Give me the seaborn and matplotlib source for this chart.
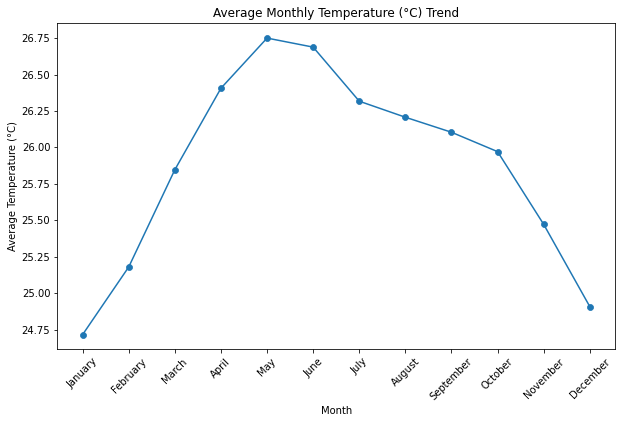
import numpy as np
import pandas as pd
import matplotlib
matplotlib.use("Agg")
import matplotlib.pyplot as plt
import seaborn as sns

months = ["January", "February", "March", "April", "May", "June",
          "July", "August", "September", "October", "November", "December"]
avg_temp = [24.716, 25.180, 25.847, 26.406, 26.750, 26.688,
            26.317, 26.207, 26.104, 25.971, 25.472, 24.908]

df = pd.DataFrame({"Month": months, "Temp": avg_temp})

fig, ax = plt.subplots(figsize=(622 / 72, 423 / 72), dpi=72)
fig.subplots_adjust(left=0.0921, right=0.989, top=0.945, bottom=0.174)

sns.lineplot(data=df, x="Month", y="Temp", marker="o", color="#1f77b4",
             markeredgecolor="#1f77b4", markersize=6, linewidth=1.5, ax=ax, sort=False)

ax.set_title("Average Monthly Temperature (°C) Trend")
ax.set_xlabel("Month")
ax.set_ylabel("Average Temperature (°C)")
ax.set_yticks(np.arange(24.75, 26.76, 0.25))
plt.setp(ax.get_xticklabels(), rotation=45)

fig.savefig("out.png", dpi=72)
